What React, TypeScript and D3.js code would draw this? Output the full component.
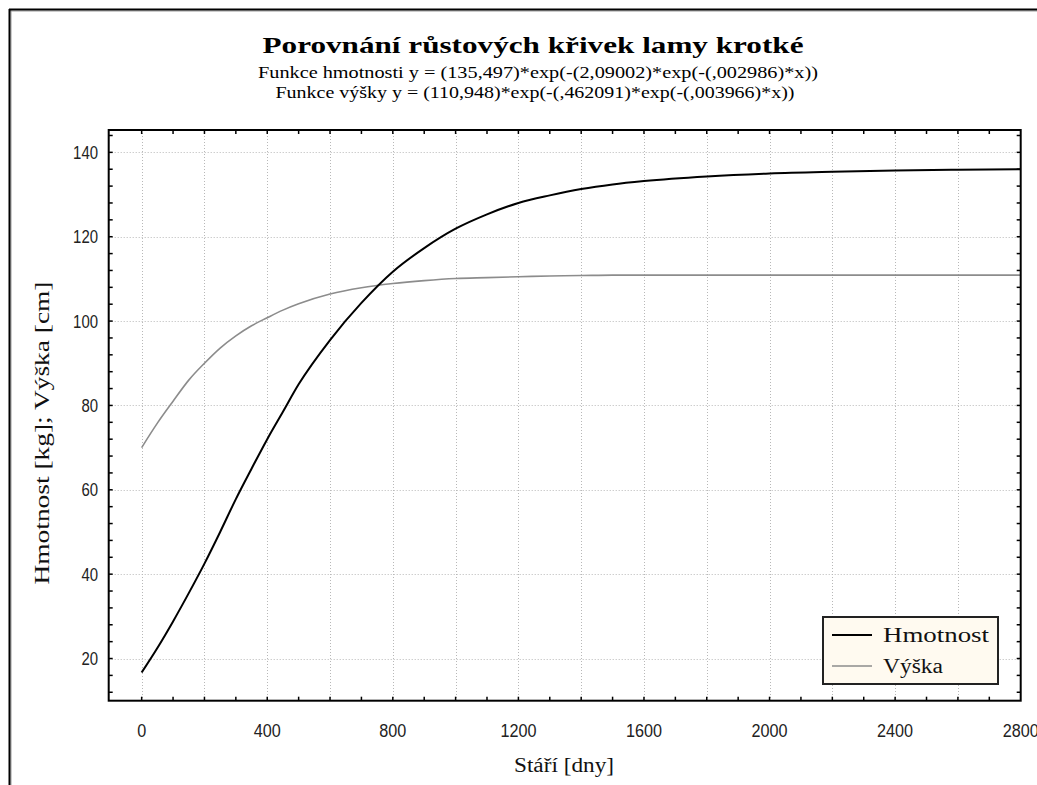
import React from "react";
import * as d3 from "d3";

const days = [0, 50, 100, 150, 200, 250, 300, 350, 400, 450, 500, 600, 700, 800, 900, 1000, 1100, 1200, 1300, 1400, 1500, 1600, 1800, 2000, 2200, 2400, 2600, 2800];
const hmotnost = [16.7, 22.5, 28.8, 35.5, 42.5, 50, 57.8, 65, 72, 78.5, 85, 95.5, 104.3, 111.7, 117.3, 121.9, 125.3, 128, 129.8, 131.3, 132.4, 133.2, 134.3, 135, 135.4, 135.7, 135.9, 136];
const vyska = [70, 75.8, 81, 86, 90, 93.6, 96.5, 98.9, 100.8, 102.6, 104.1, 106.4, 107.9, 108.9, 109.6, 110.1, 110.3, 110.5, 110.7, 110.8, 110.9, 110.9, 110.9, 110.9, 110.9, 110.9, 110.9, 110.9];

const seriesNames = ["Hmotnost", "Výška"];
const seriesColors = ["#000000", "#8c8c8c"];

const xTickLabels = [0, 400, 800, 1200, 1600, 2000, 2400, 2800];
const xGrid = [0, 200, 400, 600, 800, 1000, 1200, 1400, 1600, 1800, 2000, 2200, 2400, 2600];
const yTickLabels = [20, 40, 60, 80, 100, 120, 140];

const title = "Porovnání růstových křivek lamy krotké";
const subtitle1 = "Funkce hmotnosti y = (135,497)*exp(-(2,09002)*exp(-(,002986)*x))";
const subtitle2 = "Funkce výšky y = (110,948)*exp(-(,462091)*exp(-(,003966)*x))";
const xLabel = "Stáří [dny]";
const yLabel = "Hmotnost [kg]; Výška [cm]";

export default function App() {
  const W = 1037, H = 785;
  const left = 108.7, right = 1020.7, top = 130, bottom = 700.7;
  const x = d3.scaleLinear().domain([-105, 2800]).range([left, right]);
  const y = d3.scaleLinear().domain([10, 145.3]).range([bottom, top]);

  const line = d3.line<[number, number]>()
    .x(d => x(d[0]))
    .y(d => y(d[1]))
    .curve(d3.curveMonotoneX);

  const hPts = days.map((d, i) => [d, hmotnost[i]] as [number, number]);
  const vPts = days.map((d, i) => [d, vyska[i]] as [number, number]);

  const xMinor = d3.range(0, 2800, 100);
  const yMinor = d3.range(12, 145, 4);

  const serif = "'Liberation Serif', 'Times New Roman', serif";
  const sans = "'Liberation Sans', Arial, sans-serif";

  return (
    <svg width={W} height={H} style={{ position: "absolute", left: 0, top: 0, background: "#fff" }}>
      {/* outer frame */}
      <line x1={10} y1={11} x2={W} y2={11} stroke="#999" strokeWidth={1} />
      <line x1={11} y1={10} x2={11} y2={H} stroke="#999" strokeWidth={1} />
      <line x1={9} y1={9.5} x2={W} y2={9.5} stroke="#000" strokeWidth={2} />
      <line x1={9.5} y1={9} x2={9.5} y2={H} stroke="#000" strokeWidth={2} />

      {/* titles */}
      <text x={533} y={53} textAnchor="middle" fontFamily={serif} fontWeight="bold" fontSize={24}
        textLength={541} lengthAdjust="spacingAndGlyphs">{title}</text>
      <text x={538} y={78} textAnchor="middle" fontFamily={serif} fontSize={16}
        textLength={560} lengthAdjust="spacingAndGlyphs">{subtitle1}</text>
      <text x={535} y={98} textAnchor="middle" fontFamily={serif} fontSize={16}
        textLength={519} lengthAdjust="spacingAndGlyphs">{subtitle2}</text>

      {/* grid */}
      <g stroke="#b8b8b8" strokeWidth={1} strokeDasharray="1,2">
        {xGrid.map(v => (
          <line key={"gx" + v} x1={Math.round(x(v)) + 0.5} x2={Math.round(x(v)) + 0.5} y1={top} y2={bottom} />
        ))}
        {yTickLabels.map(v => (
          <line key={"gy" + v} x1={left} x2={right} y1={Math.round(y(v)) + 0.5} y2={Math.round(y(v)) + 0.5} />
        ))}
      </g>

      {/* curves */}
      <path d={line(vPts) || ""} fill="none" stroke={seriesColors[1]} strokeWidth={1.6} />
      <path d={line(hPts) || ""} fill="none" stroke={seriesColors[0]} strokeWidth={2} />

      {/* ticks */}
      <g stroke="#000" strokeWidth={1.5}>
        {xMinor.map(v => (
          <g key={"tx" + v}>
            <line x1={x(v)} x2={x(v)} y1={bottom} y2={bottom - 4} />
            <line x1={x(v)} x2={x(v)} y1={top} y2={top + 4} />
          </g>
        ))}
        {yMinor.map(v => (
          <g key={"ty" + v}>
            <line x1={left} x2={left + 4} y1={y(v)} y2={y(v)} />
            <line x1={right} x2={right - 4} y1={y(v)} y2={y(v)} />
          </g>
        ))}
      </g>

      {/* axes frame */}
      <rect x={left} y={top} width={right - left} height={bottom - top} fill="none" stroke="#000" strokeWidth={2} />

      {/* tick labels */}
      <g fontFamily={sans} fontSize={18} fill="#222">
        {xTickLabels.map(v => (
          <text key={"lx" + v} x={x(v)} y={737} textAnchor="middle"
            textLength={String(v).length * 9} lengthAdjust="spacingAndGlyphs">{v}</text>
        ))}
        {yTickLabels.map(v => (
          <text key={"ly" + v} x={98} y={y(v) + 6.5} textAnchor="end"
            textLength={String(v).length * 8.3} lengthAdjust="spacingAndGlyphs">{v}</text>
        ))}
      </g>

      {/* axis labels */}
      <text x={564} y={772} textAnchor="middle" fontFamily={serif} fontSize={20} fill="#111"
        textLength={100} lengthAdjust="spacingAndGlyphs">{xLabel}</text>
      <text transform={`translate(49, 433) rotate(-90)`} textAnchor="middle" fontFamily={serif} fontSize={20} fill="#111"
        textLength={303} lengthAdjust="spacingAndGlyphs">{yLabel}</text>

      {/* legend */}
      <rect x={823} y={617} width={175} height={67} fill="#fffaf0" stroke="#222" strokeWidth={2} />
      {seriesNames.map((n, i) => (
        <g key={n}>
          <line x1={832} x2={872} y1={635 + i * 31} y2={635 + i * 31} stroke={seriesColors[i]} strokeWidth={i === 0 ? 2 : 1.6} />
          <text x={883} y={642 + i * 31} fontFamily={serif} fontSize={20} fill="#111"
            textLength={i === 0 ? 106 : 60} lengthAdjust="spacingAndGlyphs">{n}</text>
        </g>
      ))}
    </svg>
  );
}
